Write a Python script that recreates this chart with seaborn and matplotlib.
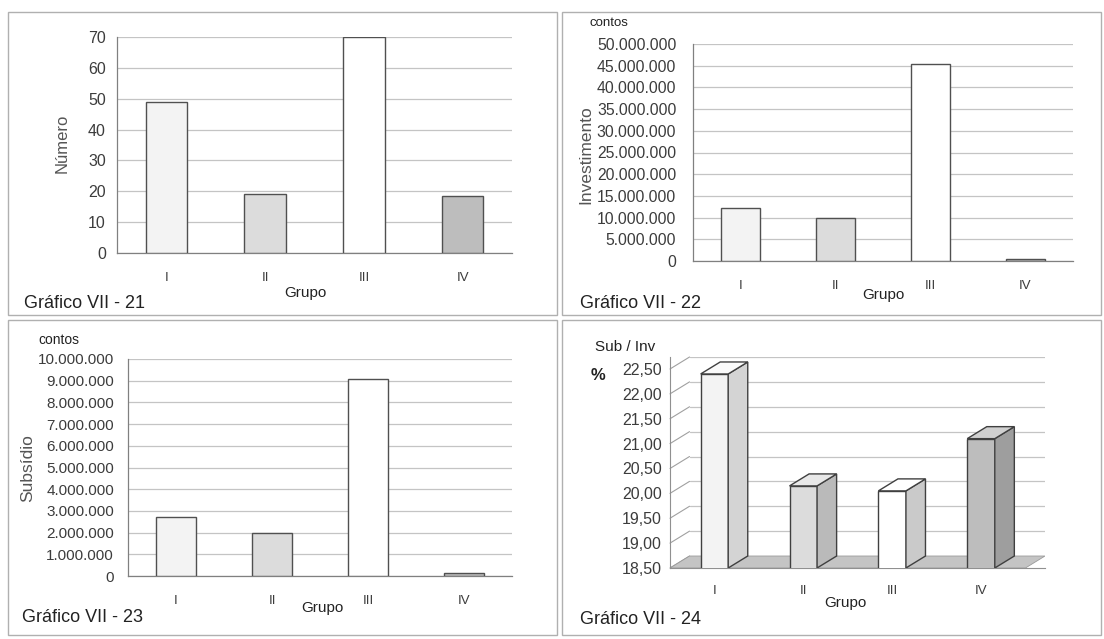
import matplotlib
matplotlib.use("Agg")
import matplotlib.pyplot as plt
import seaborn as sns
import pandas as pd
from matplotlib.patches import Polygon, Rectangle
from matplotlib.ticker import FuncFormatter, MultipleLocator, FixedLocator

sns.set_style("white")
plt.rcParams["font.family"] = ["Liberation Sans", "DejaVu Sans"]

grupos = ["I", "II", "III", "IV"]
numero = [49, 19, 70, 18.6]
investimento = [12100000, 9800000, 45400000, 500000]
subsidio = [2740000, 2000000, 9080000, 120000]
sub_inv = [22.40, 20.15, 20.05, 21.10]

cores = ["#f3f3f3", "#dcdcdc", "#ffffff", "#bdbdbd"]
cores_lado = ["#d4d4d4", "#bababa", "#cacaca", "#9e9e9e"]
cores_topo = ["#fafafa", "#e8e8e8", "#ffffff", "#d0d0d0"]

W, H = 1104, 639
fig = plt.figure(figsize=(W / 100, H / 100), dpi=100)
fig.patch.set_facecolor("white")


def box(l, t, r, b):
    return [l / W, 1 - b / H, (r - l) / W, (b - t) / H]


def ftxt(x, y, s, **kw):
    fig.text(x / W, 1 - y / H, s, **kw)


def milhares(v, pos):
    return f"{int(round(v)):,}".replace(",", ".")


def virgula(v, pos):
    return f"{v:.2f}".replace(".", ",")


# molduras dos quatro graficos
for l, t, r, b in [(8, 12, 557, 315), (562, 12, 1101, 315), (8, 320, 557, 635), (562, 320, 1101, 635)]:
    fig.patches.append(Rectangle((l / W, 1 - b / H), (r - l) / W, (b - t) / H,
                                 transform=fig.transFigure, fill=False, ec="#b0b0b0", lw=1))

tick_col = "#3c3c3c"


def barras_2d(rect, valores, ymax, step, fmt=None, ypad=4, ysize=11):
    ax = fig.add_axes(rect)
    df = pd.DataFrame({"Grupo": grupos, "v": valores})
    sns.barplot(data=df, x="Grupo", y="v", hue="Grupo", palette=cores, legend=False,
                width=0.42, edgecolor="#505050", linewidth=1, ax=ax, zorder=3)
    ax.set_ylim(0, ymax)
    ax.set_xlim(-0.5, 3.5)
    ax.yaxis.set_major_locator(MultipleLocator(step))
    if fmt:
        ax.yaxis.set_major_formatter(FuncFormatter(fmt))
    ax.grid(axis="y", color="#c4c4c4", lw=0.9, zorder=0)
    ax.set_axisbelow(True)
    for s in ["top", "right"]:
        ax.spines[s].set_visible(False)
    for s in ["left", "bottom"]:
        ax.spines[s].set_color("#808080")
        ax.spines[s].set_linewidth(0.9)
    ax.xaxis.set_minor_locator(FixedLocator([-0.5, 0.5, 1.5, 2.5, 3.5]))
    ax.tick_params(axis="x", which="major", length=0, pad=14, labelsize=9.5, labelcolor=tick_col)
    ax.tick_params(axis="x", which="minor", direction="inout", length=8, color="#808080")
    ax.tick_params(axis="y", direction="out", length=4, color="#808080", pad=ypad,
                   labelsize=ysize, labelcolor=tick_col)
    ax.set_xlabel("")
    ax.set_ylabel("")
    return ax


# Grafico VII - 21
barras_2d(box(117, 37, 512, 253), numero, 70, 10, ypad=4, ysize=11.5)
ftxt(62, 143, "Número", rotation=90, ha="center", va="center", fontsize=12, color="#555555")
ftxt(305, 293, "Grupo", ha="center", va="center", fontsize=11, color="#222222")
ftxt(24, 304, "Gráfico VII - 21", ha="left", va="center", fontsize=13, color="#222222")

# Grafico VII - 22
barras_2d(box(693, 44, 1073, 261), investimento, 50000000, 5000000, milhares, ypad=8, ysize=11.3)
ftxt(590, 23, "contos", ha="left", va="center", fontsize=9.5, color="#222222")
ftxt(586, 155, "Investimento", rotation=90, ha="center", va="center", fontsize=12.5, color="#555555")
ftxt(883, 295, "Grupo", ha="center", va="center", fontsize=11, color="#222222")
ftxt(580, 304, "Gráfico VII - 22", ha="left", va="center", fontsize=13, color="#222222")

# Grafico VII - 23
barras_2d(box(128, 359, 512, 576), subsidio, 10000000, 1000000, milhares, ypad=6, ysize=11)
ftxt(38, 340, "contos", ha="left", va="center", fontsize=10, color="#222222")
ftxt(28, 468, "Subsídio", rotation=90, ha="center", va="center", fontsize=12.5, color="#555555")
ftxt(322, 608, "Grupo", ha="center", va="center", fontsize=11, color="#222222")
ftxt(22, 618, "Gráfico VII - 23", ha="left", va="center", fontsize=13, color="#222222")

# Grafico VII - 24 (barras com efeito 3D)
dx, dy = 0.22, 0.241
base, topo = 18.5, 22.5
ax = fig.add_axes(box(670, 357, 1045, 568))
df4 = pd.DataFrame({"Grupo": grupos, "v": sub_inv})
sns.barplot(data=df4, x="Grupo", y="v", hue="Grupo", palette=cores, legend=False,
            width=0.31, edgecolor="#404040", linewidth=1, ax=ax)
ax.set_xlim(-0.5, 3.5 + dx)
ax.set_ylim(base, topo + dy)
ax.set_yticks([base + 0.5 * i for i in range(9)])
ax.yaxis.set_major_formatter(FuncFormatter(virgula))
for s in ["top", "right"]:
    ax.spines[s].set_visible(False)
ax.spines["left"].set_color("#909090")
ax.spines["bottom"].set_color("#909090")
ax.spines["bottom"].set_linewidth(0.8)
ax.spines["left"].set_linewidth(0.8)
ax.tick_params(axis="y", length=0, pad=6, labelsize=11.5, labelcolor=tick_col)
ax.xaxis.set_minor_locator(FixedLocator([0.5, 1.5, 2.5, 3.5]))
ax.tick_params(axis="x", which="major", length=0, pad=12, labelsize=9.5, labelcolor=tick_col)
ax.tick_params(axis="x", which="minor", direction="out", length=5, color="#909090")
ax.set_xlabel("")
ax.set_ylabel("")

# parede do fundo: grelha deslocada e linhas diagonais
for k in range(9):
    yv = base + 0.5 * k
    ax.plot([-0.5, -0.5 + dx], [yv, yv + dy], color="#a0a0a0", lw=0.8, zorder=1, clip_on=False)
    if k > 0:
        ax.plot([-0.5 + dx, 3.5 + dx], [yv + dy, yv + dy], color="#c4c4c4", lw=0.9, zorder=0.5)

# chao
ax.add_patch(Polygon([(-0.5, base), (3.5, base), (3.5 + dx, base + dy), (-0.5 + dx, base + dy)],
                     closed=True, fc="#c4c4c4", ec="#9a9a9a", lw=0.6, zorder=1))

for i, p in enumerate(ax.patches[:len(grupos)]):
    p.set_zorder(3)
    x0 = p.get_x()
    x1 = x0 + p.get_width()
    v = sub_inv[i]
    ax.add_patch(Polygon([(x1, base), (x1 + dx, base + dy), (x1 + dx, v + dy), (x1, v)],
                         closed=True, fc=cores_lado[i], ec="#404040", lw=1, zorder=3))
    ax.add_patch(Polygon([(x0, v), (x0 + dx, v + dy), (x1 + dx, v + dy), (x1, v)],
                         closed=True, fc=cores_topo[i], ec="#404040", lw=1, zorder=3))

ftxt(595, 347, "Sub / Inv", ha="left", va="center", fontsize=11, color="#222222")
ftxt(598, 375, "%", ha="center", va="center", fontsize=12, color="#222222", fontweight="bold")
ftxt(845, 603, "Grupo", ha="center", va="center", fontsize=11, color="#222222")
ftxt(580, 620, "Gráfico VII - 24", ha="left", va="center", fontsize=13, color="#222222")

fig.savefig("out.png", dpi=100)
